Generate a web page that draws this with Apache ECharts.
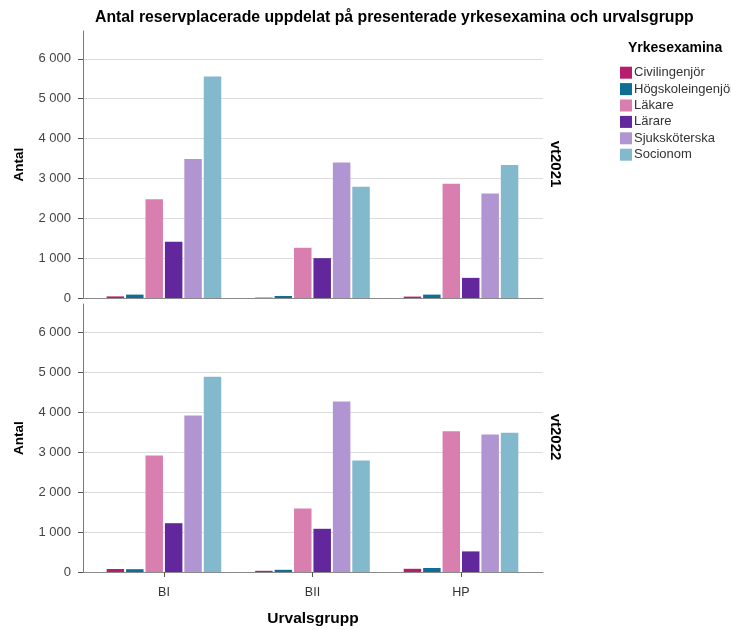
<!DOCTYPE html>
<html>
<head>
<meta charset="utf-8">
<script src="https://cdn.jsdelivr.net/npm/echarts@6/dist/echarts.min.js"></script>
<style>html,body{margin:0;padding:0;background:#fff}#c{width:731px;height:630px}</style>
</head>
<body>
<div id="c"></div>
<script>
const categories = ['BI', 'BII', 'HP'];
const professions = ['Civilingenjör', 'Högskoleingenjör', 'Läkare', 'Lärare', 'Sjuksköterska', 'Socionom'];
const colors = ['#b41e6c', '#0e6e93', '#d97fb0', '#62279d', '#b195d2', '#83b9cc'];
const facets = ['vt2021', 'vt2022'];
const yTicks = [0, 1000, 2000, 3000, 4000, 5000, 6000];

// vt2021 values per profession, order BI, BII, HP
const vt2021Civilingenjor = [40, 10, 35];
const vt2021Hogskoleingenjor = [85, 50, 85];
const vt2021Lakare = [2480, 1260, 2870];
const vt2021Larare = [1410, 1000, 505];
const vt2021Sjukskoterska = [3490, 3400, 2620];
const vt2021Socionom = [5560, 2790, 3340];

// vt2022 values per profession, order BI, BII, HP
const vt2022Civilingenjor = [75, 30, 80];
const vt2022Hogskoleingenjor = [70, 55, 100];
const vt2022Lakare = [2910, 1590, 3520];
const vt2022Larare = [1220, 1080, 515];
const vt2022Sjukskoterska = [3910, 4260, 3440];
const vt2022Socionom = [4880, 2790, 3480];

const facetData = [
  [vt2021Civilingenjor, vt2021Hogskoleingenjor, vt2021Lakare, vt2021Larare, vt2021Sjukskoterska, vt2021Socionom],
  [vt2022Civilingenjor, vt2022Hogskoleingenjor, vt2022Lakare, vt2022Larare, vt2022Sjukskoterska, vt2022Socionom]
];

const FONT = "'Liberation Sans', Arial, sans-serif";
const fmt = v => String(v).replace(/\B(?=(\d{3})+(?!\d))/g, ' ');
const catIdx = categories.map((c, i) => i);

const grids = [
  { left: 83, top: 31, width: 460, height: 267, outerBoundsMode: 'none' },
  { left: 83, top: 304, width: 460, height: 268, outerBoundsMode: 'none' }
];

const xAxes = grids.map((g, gi) => ({
  type: 'value', gridIndex: gi, min: -0.545, max: 2.552,
  splitLine: { show: false },
  axisLine: { show: true, onZero: false, lineStyle: { color: '#8a8a8a', width: 1 } },
  axisTick: { show: gi === 1, customValues: catIdx, length: 5, lineStyle: { color: '#555' } },
  axisLabel: { show: gi === 1, customValues: catIdx, formatter: v => categories[Math.round(v)] || '',
    margin: 14, fontFamily: FONT, fontSize: 12.5, color: '#333' },
  name: gi === 1 ? 'Urvalsgrupp' : '', nameLocation: 'middle', nameGap: 39,
  nameTextStyle: { fontFamily: FONT, fontSize: 15.5, fontWeight: 'bold', color: '#000' }
}));

const yAxes = grids.map((g, gi) => ({
  type: 'value', gridIndex: gi, min: 0, max: 6700, interval: 1000,
  axisLine: { show: true, onZero: false, lineStyle: { color: '#7a7a7a' } },
  axisTick: { show: true, customValues: yTicks, length: 5, lineStyle: { color: '#555' } },
  axisLabel: { customValues: yTicks, formatter: fmt, margin: 12, fontFamily: FONT, fontSize: 13, color: '#444' },
  splitLine: { show: true, customValues: yTicks, lineStyle: { color: '#dcdcdc', width: 1 } },
  name: 'Antal', nameLocation: 'middle', nameGap: 57,
  nameTextStyle: { fontFamily: FONT, fontSize: 13.5, fontWeight: 'bold', color: '#000' }
}));

const series = [];
facets.forEach((f, fi) => {
  professions.forEach((p, pi) => {
    series.push({
      type: 'bar', name: p, xAxisIndex: fi, yAxisIndex: fi,
      barWidth: 17.5, barGap: '11%',
      itemStyle: { color: colors[pi] },
      data: facetData[fi][pi].map((v, ci) => [catIdx[ci], v])
    });
  });
});

const chart = echarts.init(document.getElementById('c'), null, { renderer: 'canvas' });
chart.setOption({
  animation: false,
  backgroundColor: '#fff',
  title: [
    { text: 'Antal reservplacerade uppdelat på presenterade yrkesexamina och urvalsgrupp',
      left: 95, top: 10, padding: 0,
      textStyle: { fontFamily: FONT, fontSize: 15.8, fontWeight: 'bold', color: '#000' } },
    { text: 'Yrkesexamina', left: 628, top: 41, padding: 0,
      textStyle: { fontFamily: FONT, fontSize: 14, fontWeight: 'bold', color: '#000' } }
  ],
  legend: {
    data: professions, orient: 'vertical', left: 620, top: 66, padding: 0,
    itemWidth: 12, itemHeight: 12, itemGap: 3, icon: 'rect',
    textStyle: { fontFamily: FONT, fontSize: 13, color: '#333', padding: [0, 0, 0, -3], lineHeight: 13.4 },
    selectedMode: false
  },
  grid: grids,
  xAxis: xAxes,
  yAxis: yAxes,
  graphic: facets.map((f, fi) => ({
    type: 'text', x: 555, y: fi === 0 ? 164 : 437, rotation: -Math.PI / 2,
    style: { text: f, font: "bold 15px 'Liberation Sans', Arial", fill: '#000', align: 'center', verticalAlign: 'middle' }
  })),
  series: series
});
</script>
</body>
</html>
